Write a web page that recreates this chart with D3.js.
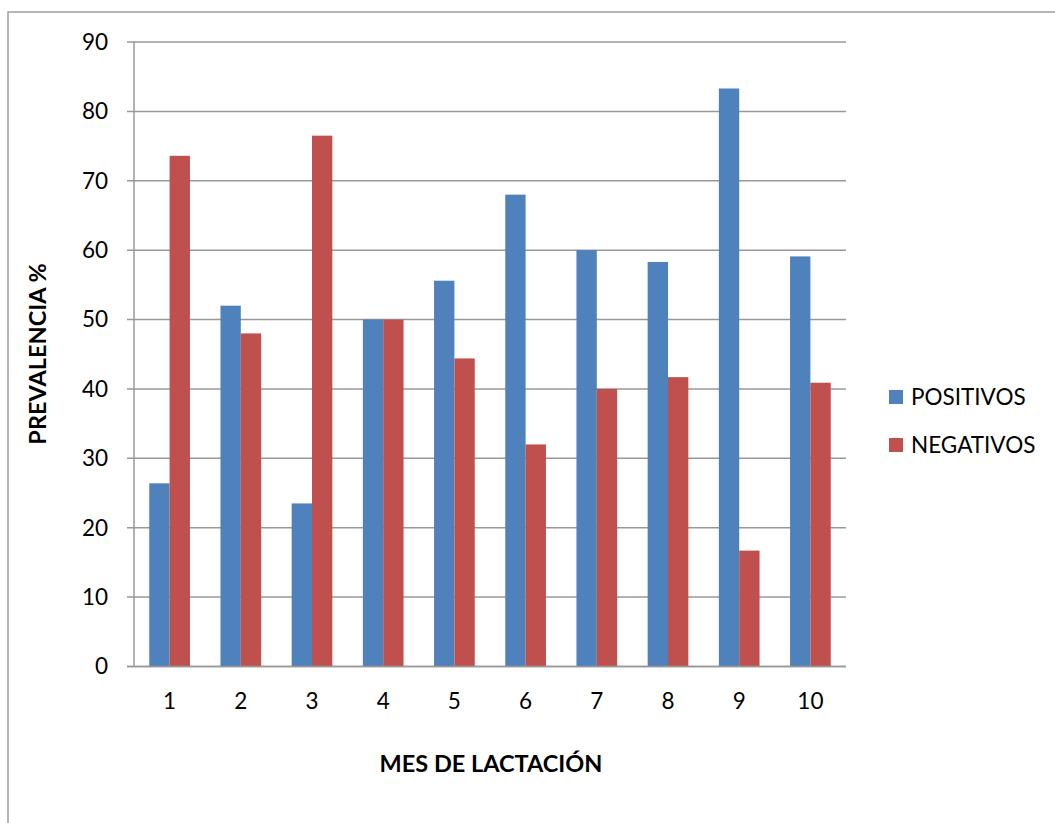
<!DOCTYPE html>
<html><head><meta charset="utf-8">
<script src="https://cdn.jsdelivr.net/npm/d3@7"></script>
<style>body{margin:0;background:#fff;}svg{display:block;font-family:Lato,"Open Sans",sans-serif;}</style>
</head><body>
<svg id="c" width="1055" height="823"></svg>
<script>
const categories = ["1","2","3","4","5","6","7","8","9","10"];
const seriesNames = ["POSITIVOS","NEGATIVOS"];
const positivos = [26.4, 52.0, 23.5, 50.0, 55.6, 68.0, 60.0, 58.3, 83.3, 59.1];
const negativos = [73.6, 48.0, 76.5, 50.0, 44.4, 32.0, 40.0, 41.7, 16.7, 40.9];
const yTicks = [0,10,20,30,40,50,60,70,80,90];
const colors = ["#4F81BD","#C0504D"];

(function(){
const svg = d3.select("#c");
svg.append("path").attr("d","M8,823 L8,12 L1055,12").attr("fill","none").attr("stroke","#a0a0a0").attr("stroke-width",1.5);

const pL=134, pR=846, pT=42, pB=666.5;
const x = d3.scaleBand().domain(categories).range([pL,pR]).paddingInner(0.4286).paddingOuter(0.2143);
const inner = d3.scaleBand().domain(seriesNames).range([0,x.bandwidth()]);
const y = d3.scaleLinear().domain([0,90]).range([pB,pT]);

svg.append("g").selectAll("line").data(yTicks).join("line")
  .attr("x1",127).attr("x2",pR).attr("y1",d=>y(d)).attr("y2",d=>y(d))
  .attr("stroke","#989898").attr("stroke-width",1.5);
svg.append("line").attr("x1",pL).attr("x2",pL).attr("y1",pT).attr("y2",pB).attr("stroke","#989898").attr("stroke-width",1.5);

const data = categories.map((c,i)=>({c, vals:[positivos[i],negativos[i]]}));
const g = svg.append("g");
data.forEach(d=>{
  d.vals.forEach((v,j)=>{
    g.append("rect").attr("x",x(d.c)+inner(seriesNames[j])).attr("width",inner.bandwidth())
      .attr("y",y(v)).attr("height",y(0)-y(v)).attr("fill",colors[j]);
  });
});
svg.append("line").attr("x1",127).attr("x2",pR).attr("y1",y(0)).attr("y2",y(0)).attr("stroke","#989898").attr("stroke-width",1.5);

svg.append("g").selectAll("text").data(yTicks).join("text")
  .attr("x",108).attr("y",d=>y(d)).attr("dy","0.35em").attr("text-anchor","end")
  .attr("font-size",22.5).attr("fill","#000").text(d=>d);
svg.append("g").selectAll("text").data(categories).join("text")
  .attr("x",d=>x(d)+x.bandwidth()/2).attr("y",701).attr("dy","0.35em").attr("text-anchor","middle")
  .attr("font-size",22.5).attr("fill","#000").text(d=>d);

svg.append("text").attr("transform","translate(38,354) rotate(-90)").attr("text-anchor","middle").attr("dy","0.35em")
  .attr("font-size",23.5).attr("font-weight","bold").text("PREVALENCIA %");
svg.append("text").attr("x",491).attr("y",764).attr("text-anchor","middle").attr("dy","0.35em")
  .attr("font-size",23.5).attr("font-weight","bold").text("MES DE LACTACIÓN");

const lg = svg.append("g");
seriesNames.forEach((s,i)=>{
  const cy = 397 + i*48;
  lg.append("rect").attr("x",889).attr("y",cy-7).attr("width",14).attr("height",14).attr("fill",colors[i]);
  lg.append("text").attr("x",911).attr("y",cy).attr("dy","0.35em").attr("font-size",22.5).text(s);
});
})();
</script>
</body></html>
